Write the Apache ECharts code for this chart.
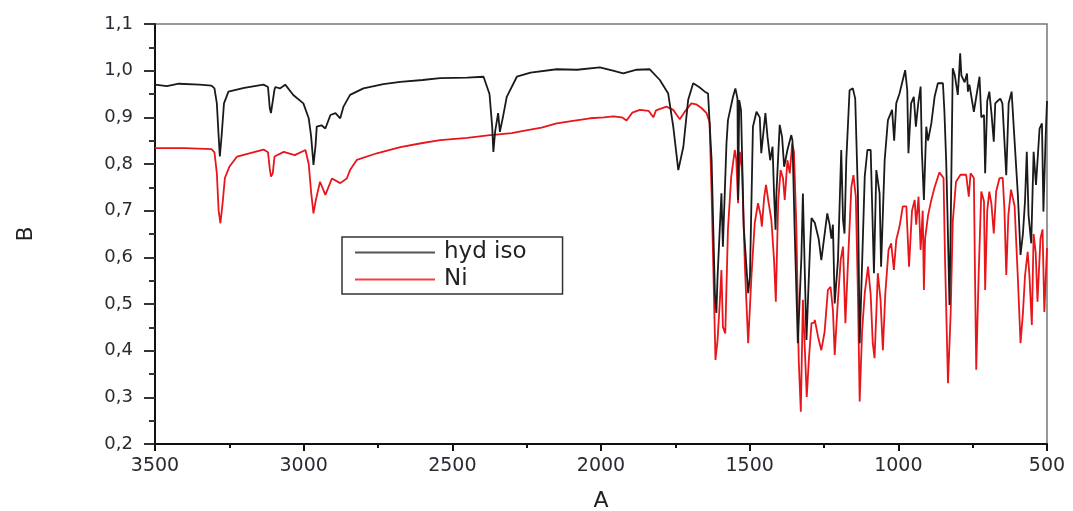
<!DOCTYPE html>
<html><head><meta charset="utf-8">
<script src="https://cdn.jsdelivr.net/npm/echarts@6/dist/echarts.min.js"></script>
<style>html,body{margin:0;padding:0;background:#fff}#c{width:1073px;height:511px}</style>
</head><body><div id="c"></div>
<script>
const xTicks = [3500, 3000, 2500, 2000, 1500, 1000, 500];
const yTicks = [0.2, 0.3, 0.4, 0.5, 0.6, 0.7, 0.8, 0.9, 1.0, 1.1];
const seriesNames = ['hyd iso', 'Ni'];

const blackX = [3500,3460,3420,3350,3310,3300,3292,3286,3282,3276,3268,3253,3200,3135,3120,3114,3110,3104,3098,3095,3080,3062,3035,3001,2983,2975,2967,2960,2956,2940,2927,2910,2893,2877,2866,2844,2799,2732,2675,2600,2541,2450,2395,2375,2366,2362,2356,2346,2340,2330,2317,2283,2237,2149,2080,2004,1960,1925,1880,1836,1802,1774,1757,1740,1723,1707,1690,1670,1651,1640,1628,1617,1612,1608,1602,1595,1590,1584,1578,1573,1556,1548,1541,1539,1535,1529,1520,1516,1505,1499,1489,1477,1466,1461,1455,1447,1440,1431,1423,1418,1413,1410,1399,1391,1384,1373,1360,1356,1349,1338,1326,1321,1309,1297,1292,1281,1268,1259,1239,1231,1225,1220,1214,1203,1192,1186,1181,1175,1164,1153,1145,1136,1130,1125,1113,1104,1093,1082,1074,1063,1058,1046,1035,1021,1014,1007,996,985,977,970,966,957,948,941,933,925,921,914,906,900,889,878,867,850,845,839,835,828,824,817,810,800,796,792,788,777,769,766,761,746,727,721,712,708,701,694,687,679,674,666,657,650,637,629,619,611,598,589,581,574,568,562,553,545,537,525,517,512,505,500];
const blackY = [0.970,0.967,0.972,0.970,0.968,0.962,0.930,0.860,0.816,0.860,0.930,0.955,0.963,0.970,0.965,0.920,0.909,0.910,0.960,0.965,0.962,0.970,0.948,0.930,0.898,0.860,0.798,0.840,0.880,0.883,0.876,0.905,0.909,0.898,0.923,0.948,0.962,0.971,0.976,0.980,0.984,0.985,0.987,0.950,0.880,0.826,0.870,0.909,0.869,0.900,0.944,0.987,0.996,1.003,1.002,1.007,1.000,0.994,1.002,1.003,0.980,0.951,0.880,0.787,0.837,0.937,0.973,0.965,0.955,0.951,0.808,0.523,0.481,0.558,0.560,0.737,0.623,0.620,0.844,0.894,0.944,0.962,0.940,0.723,0.937,0.915,0.666,0.666,0.523,0.560,0.880,0.912,0.900,0.823,0.823,0.909,0.858,0.808,0.837,0.737,0.659,0.737,0.884,0.858,0.794,0.830,0.862,0.850,0.666,0.416,0.600,0.737,0.423,0.623,0.684,0.674,0.640,0.594,0.694,0.670,0.640,0.670,0.501,0.594,0.830,0.680,0.651,0.808,0.958,0.962,0.940,0.737,0.416,0.520,0.773,0.830,0.830,0.566,0.787,0.737,0.580,0.808,0.894,0.916,0.850,0.930,0.951,0.980,1.001,0.958,0.823,0.930,0.944,0.880,0.930,0.966,0.830,0.723,0.880,0.850,0.887,0.944,0.973,0.973,0.912,0.805,0.700,0.498,0.660,1.005,0.990,0.948,0.990,1.037,0.990,0.975,0.994,0.955,0.970,0.912,0.987,0.900,0.905,0.780,0.935,0.955,0.910,0.848,0.930,0.935,0.940,0.930,0.776,0.930,0.955,0.870,0.734,0.605,0.650,0.720,0.826,0.690,0.630,0.826,0.755,0.876,0.887,0.698,0.850,0.935];

const redX = [3500,3400,3310,3300,3292,3286,3280,3272,3265,3250,3224,3135,3120,3114,3110,3104,3098,3067,3030,2994,2983,2975,2967,2960,2945,2927,2905,2877,2855,2844,2821,2754,2675,2600,2541,2450,2373,2300,2261,2200,2149,2100,2037,1990,1959,1930,1914,1895,1869,1840,1824,1815,1780,1757,1745,1735,1715,1696,1680,1662,1645,1635,1628,1619,1615,1608,1600,1595,1590,1582,1573,1562,1550,1545,1539,1533,1526,1516,1505,1494,1483,1472,1463,1459,1451,1445,1437,1427,1418,1412,1404,1396,1388,1382,1373,1365,1357,1351,1343,1335,1328,1321,1313,1308,1301,1292,1283,1281,1270,1259,1248,1237,1228,1220,1214,1205,1194,1186,1178,1169,1158,1151,1143,1136,1130,1122,1113,1102,1093,1086,1080,1074,1069,1060,1052,1044,1033,1024,1015,1007,996,985,973,964,954,945,940,932,925,918,914,910,900,889,878,862,848,843,833,824,817,806,791,772,763,757,746,742,738,730,721,712,708,701,694,687,679,671,660,649,643,637,630,621,609,598,589,581,574,565,559,551,545,538,532,522,515,509,500];
const redY = [0.834,0.834,0.832,0.825,0.780,0.700,0.673,0.720,0.770,0.794,0.816,0.831,0.825,0.790,0.773,0.780,0.816,0.826,0.819,0.830,0.800,0.740,0.694,0.720,0.762,0.734,0.769,0.759,0.769,0.787,0.809,0.823,0.836,0.845,0.851,0.856,0.862,0.866,0.871,0.878,0.887,0.892,0.898,0.900,0.902,0.900,0.893,0.910,0.916,0.914,0.900,0.915,0.923,0.916,0.905,0.896,0.915,0.930,0.928,0.920,0.909,0.890,0.737,0.487,0.380,0.423,0.509,0.573,0.451,0.437,0.660,0.773,0.830,0.810,0.716,0.826,0.793,0.580,0.416,0.560,0.673,0.716,0.690,0.666,0.730,0.755,0.720,0.680,0.594,0.505,0.720,0.787,0.770,0.723,0.808,0.780,0.844,0.826,0.666,0.380,0.269,0.509,0.380,0.301,0.380,0.459,0.460,0.466,0.430,0.401,0.440,0.530,0.537,0.487,0.391,0.490,0.594,0.623,0.459,0.594,0.751,0.776,0.730,0.523,0.291,0.440,0.523,0.580,0.520,0.416,0.384,0.480,0.566,0.510,0.401,0.520,0.616,0.630,0.573,0.637,0.666,0.709,0.709,0.580,0.700,0.723,0.670,0.730,0.616,0.700,0.530,0.640,0.690,0.723,0.750,0.782,0.770,0.598,0.330,0.480,0.676,0.762,0.777,0.777,0.730,0.780,0.770,0.555,0.359,0.560,0.741,0.720,0.530,0.700,0.741,0.715,0.651,0.741,0.769,0.771,0.700,0.562,0.690,0.745,0.710,0.555,0.416,0.480,0.560,0.612,0.560,0.455,0.650,0.610,0.505,0.640,0.660,0.483,0.620];

const pairs = (xs, ys) => xs.map((x, i) => [x, ys[i]]);
const font = 'DejaVu Sans';
const chart = echarts.init(document.getElementById('c'), null, {renderer: 'canvas'});
chart.setOption({
  animation: false,
  backgroundColor: '#fff',
  grid: {left: 155, right: 26, top: 24, bottom: 67, outerBoundsMode: 'none', containLabel: false,
    show: true, borderColor: '#777', borderWidth: 1.5, backgroundColor: 'transparent'},
  legend: {
    data: seriesNames, orient: 'vertical', left: 342, top: 237,
    icon: 'rect', itemWidth: 80, itemHeight: 2, itemGap: 4,
    padding: [4, 36, 3, 13],
    backgroundColor: '#fff', borderColor: '#333', borderWidth: 1.5,
    textStyle: {fontFamily: font, fontSize: 23, color: '#222', padding: [0, 0, 0, 4]}
  },
  xAxis: {
    type: 'value', inverse: true, min: xTicks[xTicks.length - 1], max: xTicks[0], interval: 500,
    name: 'A', nameLocation: 'middle', nameGap: 46,
    nameTextStyle: {fontFamily: font, fontSize: 22, color: '#222'},
    axisLine: {show: true, lineStyle: {color: '#111', width: 2}},
    axisTick: {show: true, length: 7, lineStyle: {color: '#111', width: 2}},
    minorTick: {show: true, splitNumber: 2, length: 4, lineStyle: {color: '#111', width: 2}},
    axisLabel: {fontFamily: font, fontSize: 19, color: '#2a2a33', margin: 13,
      formatter: v => String(Math.round(v))},
    splitLine: {show: false}
  },
  yAxis: {
    type: 'value', min: yTicks[0], max: yTicks[yTicks.length - 1], interval: 0.1,
    name: 'B', nameLocation: 'middle', nameGap: 118, nameRotate: 90,
    nameTextStyle: {fontFamily: font, fontSize: 22, color: '#222'},
    axisLine: {show: true, lineStyle: {color: '#111', width: 2}},
    axisTick: {show: true, length: 11, lineStyle: {color: '#333', width: 2}},
    minorTick: {show: true, splitNumber: 2, length: 6, lineStyle: {color: '#333', width: 2}},
    axisLabel: {fontFamily: font, fontSize: 18, color: '#2a2a33', margin: 22,
      formatter: v => v.toFixed(1).replace('.', ',')},
    splitLine: {show: false}
  },
  series: [
    {name: seriesNames[0], type: 'line', data: pairs(blackX, blackY), symbol: 'none',
      lineStyle: {color: '#1a1a1a', width: 1.8}, itemStyle: {color: '#555'}, z: 3},
    {name: seriesNames[1], type: 'line', data: pairs(redX, redY), symbol: 'none',
      lineStyle: {color: '#e8161b', width: 1.8}, itemStyle: {color: '#f04048'}, z: 2}
  ]
});
</script></body></html>
